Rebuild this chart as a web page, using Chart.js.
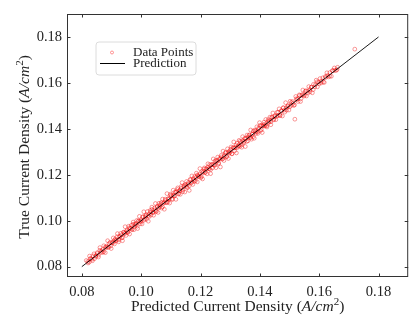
<!DOCTYPE html>
<html>
<head>
<meta charset="utf-8">
<script src="https://cdn.jsdelivr.net/npm/chart.js@4"></script>
<style>
  html, body { margin: 0; padding: 0; background: #fff; }
  #wrap { width: 413px; height: 322px; }
</style>
</head>
<body>
<div id="wrap"><canvas id="parityChart" width="413" height="322"></canvas></div>
<script>
// Predicted vs true current density (A/cm^2)
const predicted = [
  0.0815, 0.0821, 0.0826, 0.0830, 0.0836, 0.0841, 0.0847, 0.0852, 0.0856, 0.0861,
  0.0866, 0.0870, 0.0874, 0.0879, 0.0883, 0.0887, 0.0891, 0.0895, 0.0899, 0.0903,
  0.0906, 0.0910, 0.0913, 0.0917, 0.0920, 0.0924, 0.0927, 0.0931, 0.0934, 0.0937,
  0.0940, 0.0943, 0.0946, 0.0949, 0.0952, 0.0955, 0.0958, 0.0961, 0.0964, 0.0967,
  0.0970, 0.0973, 0.0976, 0.0979, 0.0982, 0.0985, 0.0988, 0.0991, 0.0994, 0.0997,
  0.1000, 0.1003, 0.1006, 0.1009, 0.1012, 0.1015, 0.1018, 0.1021, 0.1024, 0.1027,
  0.1030, 0.1033, 0.1036, 0.1039, 0.1042, 0.1045, 0.1048, 0.1051, 0.1054, 0.1057,
  0.1060, 0.1063, 0.1066, 0.1069, 0.1072, 0.1075, 0.1078, 0.1081, 0.1084, 0.1087,
  0.1090, 0.1093, 0.1096, 0.1099, 0.1102, 0.1105, 0.1108, 0.1111, 0.1114, 0.1117,
  0.1120, 0.1123, 0.1126, 0.1129, 0.1132, 0.1135, 0.1138, 0.1141, 0.1144, 0.1147,
  0.1150, 0.1153, 0.1156, 0.1159, 0.1162, 0.1165, 0.1168, 0.1171, 0.1174, 0.1177,
  0.1180, 0.1183, 0.1186, 0.1189, 0.1192, 0.1195, 0.1198, 0.1201, 0.1204, 0.1207,
  0.1210, 0.1213, 0.1216, 0.1219, 0.1222, 0.1225, 0.1228, 0.1231, 0.1234, 0.1237,
  0.1240, 0.1243, 0.1246, 0.1249, 0.1252, 0.1255, 0.1258, 0.1261, 0.1264, 0.1267,
  0.1270, 0.1273, 0.1276, 0.1279, 0.1282, 0.1285, 0.1288, 0.1291, 0.1294, 0.1297,
  0.1300, 0.1303, 0.1306, 0.1309, 0.1312, 0.1315, 0.1318, 0.1321, 0.1324, 0.1327,
  0.1330, 0.1333, 0.1336, 0.1339, 0.1342, 0.1345, 0.1348, 0.1351, 0.1354, 0.1357,
  0.1360, 0.1363, 0.1366, 0.1369, 0.1372, 0.1375, 0.1378, 0.1381, 0.1384, 0.1387,
  0.1390, 0.1393, 0.1396, 0.1399, 0.1402, 0.1405, 0.1408, 0.1411, 0.1414, 0.1417,
  0.1420, 0.1424, 0.1427, 0.1430, 0.1434, 0.1437, 0.1440, 0.1444, 0.1447, 0.1451,
  0.1454, 0.1458, 0.1461, 0.1465, 0.1468, 0.1472, 0.1476, 0.1479, 0.1483, 0.1487,
  0.1490, 0.1494, 0.1498, 0.1502, 0.1506, 0.1510, 0.1514, 0.1518, 0.1521, 0.1525,
  0.1529, 0.1533, 0.1537, 0.1541, 0.1545, 0.1549, 0.1553, 0.1557, 0.1561, 0.1565,
  0.1569, 0.1573, 0.1577, 0.1581, 0.1585, 0.1590, 0.1594, 0.1598, 0.1603, 0.1607,
  0.1612, 0.1617, 0.1621, 0.1626, 0.1631, 0.1636, 0.1641, 0.1646, 0.1651, 0.1657,
  0.1662, 0.1720,
  0.0820, 0.0825, 0.0829, 0.0834, 0.0838, 0.0843, 0.0847, 0.0852, 0.0856, 0.0861,
  0.0865, 0.0870, 0.0874, 0.0879, 0.0883, 0.0888, 0.0892, 0.0897, 0.0901, 0.0906,
  0.0910, 0.0915, 0.0919, 0.0924, 0.0928, 0.0933, 0.0937, 0.0942, 0.0946, 0.0951,
  0.0955, 0.0960, 0.0964, 0.0969, 0.0973, 0.0978, 0.0982, 0.0987, 0.0991, 0.0996,
  0.1000, 0.1005, 0.1009, 0.1014, 0.1018, 0.1023, 0.1027, 0.1032, 0.1036, 0.1041,
  0.1045, 0.1050, 0.1054, 0.1059, 0.1063, 0.1068, 0.1072, 0.1077, 0.1081, 0.1086,
  0.1090, 0.1095, 0.1099, 0.1104, 0.1108, 0.1113, 0.1117, 0.1122, 0.1126, 0.1131,
  0.1135, 0.1140, 0.1144, 0.1149, 0.1153, 0.1158, 0.1162, 0.1167, 0.1171, 0.1176,
  0.1180, 0.1185, 0.1189, 0.1194, 0.1198, 0.1203, 0.1207, 0.1212, 0.1216, 0.1221,
  0.1225, 0.1230, 0.1234, 0.1239, 0.1243, 0.1248, 0.1252, 0.1257, 0.1261, 0.1266,
  0.1270, 0.1275, 0.1279, 0.1284, 0.1288, 0.1293, 0.1297, 0.1302, 0.1306, 0.1311,
  0.1315, 0.1320, 0.1324, 0.1329, 0.1333, 0.1338, 0.1342, 0.1347, 0.1351, 0.1356,
  0.1360, 0.1365, 0.1369, 0.1374, 0.1378, 0.1383, 0.1387, 0.1392, 0.1396, 0.1401,
  0.1405, 0.1410, 0.1414, 0.1419, 0.1423, 0.1428, 0.1432, 0.1437, 0.1441, 0.1446,
  0.1451, 0.1457, 0.1462, 0.1468, 0.1473, 0.1479, 0.1484, 0.1490, 0.1495, 0.1501,
  0.1506, 0.1512, 0.1517, 0.1523, 0.1528, 0.1534, 0.1539, 0.1545, 0.1550, 0.1556,
  0.1562, 0.1568, 0.1574, 0.1580, 0.1587, 0.1593, 0.1600, 0.1607, 0.1614, 0.1621,
  0.1628, 0.1636, 0.1644, 0.1652, 0.1660
];
const actual = [
  0.0827, 0.0816, 0.0846, 0.0834, 0.0826, 0.0856, 0.0844, 0.0861, 0.0842, 0.0883,
  0.0868, 0.0862, 0.0891, 0.0861, 0.0889, 0.0913, 0.0885, 0.0906, 0.0879, 0.0906,
  0.0925, 0.0899, 0.0921, 0.0915, 0.0944, 0.0908, 0.0932, 0.0945, 0.0925, 0.0913,
  0.0950, 0.0944, 0.0974, 0.0936, 0.0959, 0.0951, 0.0976, 0.0942, 0.0967, 0.0980,
  0.0963, 0.0994, 0.0961, 0.0985, 0.0981, 0.1001, 0.0966, 0.1000, 0.1019, 0.0987,
  0.1004, 0.0986, 0.1018, 0.1039, 0.1007, 0.1023, 0.1006, 0.1040, 0.0998, 0.1029,
  0.1044, 0.1025, 0.1059, 0.1036, 0.1024, 0.1055, 0.1075, 0.1040, 0.1059, 0.1036,
  0.1076, 0.1061, 0.1074, 0.1055, 0.1094, 0.1076, 0.1050, 0.1094, 0.1078, 0.1118,
  0.1081, 0.1097, 0.1077, 0.1116, 0.1109, 0.1092, 0.1133, 0.1108, 0.1125, 0.1093,
  0.1126, 0.1143, 0.1116, 0.1131, 0.1115, 0.1149, 0.1166, 0.1134, 0.1153, 0.1125,
  0.1153, 0.1171, 0.1144, 0.1166, 0.1132, 0.1180, 0.1164, 0.1195, 0.1158, 0.1178,
  0.1192, 0.1174, 0.1207, 0.1169, 0.1197, 0.1193, 0.1227, 0.1187, 0.1214, 0.1182,
  0.1214, 0.1230, 0.1210, 0.1227, 0.1204, 0.1248, 0.1227, 0.1244, 0.1205, 0.1243,
  0.1230, 0.1269, 0.1242, 0.1260, 0.1231, 0.1257, 0.1277, 0.1248, 0.1271, 0.1234,
  0.1285, 0.1268, 0.1303, 0.1262, 0.1285, 0.1297, 0.1280, 0.1313, 0.1271, 0.1303,
  0.1298, 0.1321, 0.1291, 0.1318, 0.1343, 0.1304, 0.1319, 0.1295, 0.1338, 0.1324,
  0.1350, 0.1324, 0.1341, 0.1320, 0.1366, 0.1339, 0.1358, 0.1323, 0.1357, 0.1373,
  0.1348, 0.1371, 0.1362, 0.1395, 0.1355, 0.1377, 0.1391, 0.1359, 0.1391, 0.1380,
  0.1409, 0.1380, 0.1400, 0.1427, 0.1392, 0.1414, 0.1384, 0.1412, 0.1429, 0.1412,
  0.1441, 0.1408, 0.1433, 0.1428, 0.1451, 0.1418, 0.1450, 0.1469, 0.1439, 0.1454,
  0.1440, 0.1472, 0.1458, 0.1487, 0.1457, 0.1479, 0.1456, 0.1491, 0.1482, 0.1514,
  0.1481, 0.1499, 0.1482, 0.1520, 0.1502, 0.1519, 0.1502, 0.1442, 0.1541, 0.1527,
  0.1519, 0.1548, 0.1519, 0.1547, 0.1569, 0.1543, 0.1564, 0.1543, 0.1564, 0.1584,
  0.1561, 0.1581, 0.1557, 0.1594, 0.1583, 0.1612, 0.1583, 0.1603, 0.1619, 0.1600,
  0.1622, 0.1602, 0.1623, 0.1644, 0.1626, 0.1645, 0.1629, 0.1653, 0.1665, 0.1654,
  0.1668, 0.1747,
  0.0823, 0.0820, 0.0836, 0.0832, 0.0847, 0.0835, 0.0848, 0.0857, 0.0850, 0.0871,
  0.0862, 0.0874, 0.0865, 0.0885, 0.0883, 0.0884, 0.0900, 0.0890, 0.0903, 0.0905,
  0.0916, 0.0912, 0.0930, 0.0917, 0.0930, 0.0938, 0.0927, 0.0950, 0.0945, 0.0955,
  0.0949, 0.0969, 0.0967, 0.0961, 0.0985, 0.0976, 0.0987, 0.0976, 0.0998, 0.0997,
  0.0996, 0.1015, 0.1002, 0.1017, 0.1026, 0.1021, 0.1018, 0.1038, 0.1049, 0.1036,
  0.1046, 0.1042, 0.1063, 0.1056, 0.1067, 0.1079, 0.1060, 0.1079, 0.1088, 0.1080,
  0.1095, 0.1094, 0.1111, 0.1095, 0.1111, 0.1109, 0.1125, 0.1136, 0.1119, 0.1131,
  0.1141, 0.1127, 0.1148, 0.1158, 0.1148, 0.1160, 0.1152, 0.1178, 0.1168, 0.1183,
  0.1172, 0.1188, 0.1199, 0.1192, 0.1204, 0.1192, 0.1208, 0.1225, 0.1210, 0.1225,
  0.1234, 0.1226, 0.1222, 0.1246, 0.1245, 0.1241, 0.1263, 0.1262, 0.1252, 0.1269,
  0.1278, 0.1270, 0.1280, 0.1296, 0.1278, 0.1297, 0.1294, 0.1311, 0.1292, 0.1317,
  0.1317, 0.1330, 0.1318, 0.1328, 0.1346, 0.1330, 0.1347, 0.1345, 0.1358, 0.1345,
  0.1364, 0.1374, 0.1362, 0.1376, 0.1366, 0.1394, 0.1387, 0.1387, 0.1404, 0.1415,
  0.1396, 0.1413, 0.1420, 0.1416, 0.1413, 0.1440, 0.1433, 0.1431, 0.1450, 0.1442,
  0.1458, 0.1455, 0.1472, 0.1460, 0.1477, 0.1492, 0.1473, 0.1492, 0.1501, 0.1496,
  0.1515, 0.1511, 0.1504, 0.1531, 0.1531, 0.1545, 0.1532, 0.1550, 0.1547, 0.1566,
  0.1556, 0.1570, 0.1582, 0.1571, 0.1592, 0.1605, 0.1596, 0.1608, 0.1604, 0.1628,
  0.1632, 0.1629, 0.1653, 0.1655, 0.1658
];
// Prediction line end points
const lineX = [0.08, 0.18];
const lineY = [0.08, 0.18];
const tickValues = [0.08, 0.10, 0.12, 0.14, 0.16, 0.18];

const FONT = '"Liberation Serif", "DejaVu Serif", serif';

const scatterData = predicted.map((x, i) => ({x: x, y: actual[i]}));
const lineData = lineX.map((x, i) => ({x: x, y: lineY[i]}));

// draws text made of parts with different fonts, centred at (cx, cy)
function drawRich(ctx, parts, cx, cy, rotate) {
  ctx.save();
  ctx.translate(cx, cy);
  if (rotate) ctx.rotate(-Math.PI / 2);
  let total = 0;
  parts.forEach(p => { ctx.font = p.font; total += ctx.measureText(p.t).width; });
  let x = -total / 2;
  ctx.fillStyle = '#222';
  ctx.textBaseline = 'middle';
  ctx.textAlign = 'left';
  parts.forEach(p => {
    ctx.font = p.font;
    ctx.fillText(p.t, x, p.dy || 0);
    x += ctx.measureText(p.t).width;
  });
  ctx.restore();
}

function titleParts(lead) {
  return [
    {t: lead + ' (', font: '15.5px ' + FONT},
    {t: 'A/cm', font: 'italic 15.5px ' + FONT},
    {t: '2', font: '11px ' + FONT, dy: -5},
    {t: ')', font: '15.5px ' + FONT}
  ];
}

const decorations = {
  id: 'decorations',
  afterDraw(chart) {
    const ctx = chart.ctx;
    const a = chart.chartArea;
    const xs = chart.scales.x, ys = chart.scales.y;
    ctx.save();
    // frame
    ctx.strokeStyle = '#333';
    ctx.lineWidth = 1;
    ctx.strokeRect(a.left + 0.5, a.top + 0.5, a.right - a.left - 1, a.bottom - a.top - 1);
    // inward ticks on all four sides
    const tl = 3.5;
    ctx.beginPath();
    tickValues.forEach(v => {
      const px = Math.round(xs.getPixelForValue(v)) + 0.5;
      ctx.moveTo(px, a.bottom); ctx.lineTo(px, a.bottom - tl);
      ctx.moveTo(px, a.top); ctx.lineTo(px, a.top + tl);
      const py = Math.round(ys.getPixelForValue(v)) + 0.5;
      ctx.moveTo(a.left, py); ctx.lineTo(a.left + tl, py);
      ctx.moveTo(a.right, py); ctx.lineTo(a.right - tl, py);
    });
    ctx.stroke();

    // legend box
    const lx = 96, ly = 42, lw = 100, lh = 33, r = 3;
    ctx.beginPath();
    ctx.moveTo(lx + r, ly);
    ctx.arcTo(lx + lw, ly, lx + lw, ly + lh, r);
    ctx.arcTo(lx + lw, ly + lh, lx, ly + lh, r);
    ctx.arcTo(lx, ly + lh, lx, ly, r);
    ctx.arcTo(lx, ly, lx + lw, ly, r);
    ctx.closePath();
    ctx.fillStyle = 'rgba(255,255,255,0.8)';
    ctx.fill();
    ctx.strokeStyle = '#dcdcdc';
    ctx.lineWidth = 1;
    ctx.stroke();
    // legend markers
    ctx.beginPath();
    ctx.arc(112, 52.5, 1.5, 0, Math.PI * 2);
    ctx.strokeStyle = 'rgba(255,0,0,0.5)';
    ctx.lineWidth = 0.8;
    ctx.stroke();
    ctx.beginPath();
    ctx.moveTo(100, 63.5); ctx.lineTo(125, 63.5);
    ctx.strokeStyle = '#000';
    ctx.lineWidth = 1;
    ctx.stroke();
    ctx.fillStyle = '#222';
    ctx.font = '13px ' + FONT;
    ctx.textBaseline = 'middle';
    ctx.fillText('Data Points', 133, 52.5);
    ctx.fillText('Prediction', 133, 63.5);
    ctx.restore();

    // axis titles
    drawRich(ctx, titleParts('Predicted Current Density'), (a.left + a.right) / 2, 307, false);
    drawRich(ctx, titleParts('True Current Density'), 25, 147, true);
  }
};

const ctx = document.getElementById('parityChart').getContext('2d');
new Chart(ctx, {
  data: {
    datasets: [
      { type: 'line', label: 'Prediction', data: lineData, borderColor: '#000', borderWidth: 0.9,
        pointRadius: 0, fill: false, order: 0 },
      { type: 'scatter', label: 'Data Points', data: scatterData, pointRadius: 1.9,
        borderColor: 'rgba(240,0,0,0.5)', backgroundColor: 'rgba(255,0,0,0)', borderWidth: 0.8, order: 1 }
    ]
  },
  options: {
    responsive: false,
    animation: false,
    layout: { padding: { top: 14, right: 4, left: 0, bottom: 0 } },
    plugins: { legend: { display: false }, tooltip: { enabled: false } },
    scales: {
      x: {
        type: 'linear', min: 0.075, max: 0.19,
        grid: { display: false, drawTicks: false },
        border: { display: false },
        afterBuildTicks: s => { s.ticks = tickValues.map(v => ({value: v})); },
        afterFit: s => { s.height = 45; },
        ticks: { padding: 6, color: '#222', font: { family: FONT, size: 14.5 }, callback: v => v.toFixed(2) }
      },
      y: {
        type: 'linear', min: 0.0755, max: 0.19,
        grid: { display: false, drawTicks: false },
        border: { display: false },
        afterBuildTicks: s => { s.ticks = tickValues.map(v => ({value: v})); },
        afterFit: s => { s.width = 67; },
        ticks: { padding: 5, color: '#222', font: { family: FONT, size: 14.5 }, callback: v => v.toFixed(2) }
      }
    }
  },
  plugins: [decorations]
});
</script>
</body>
</html>
